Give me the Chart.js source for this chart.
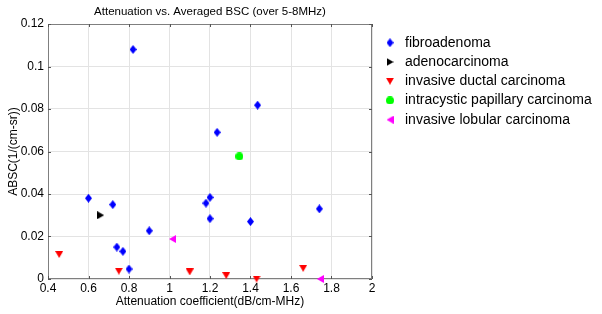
<!DOCTYPE html>
<html>
<head>
<meta charset="utf-8">
<script src="https://cdn.jsdelivr.net/npm/chart.js@4"></script>
<style>
  body { margin: 0; background: #fff; }
</style>
</head>
<body>
<canvas id="chart-absc" width="602" height="314"></canvas>
<script>
// data
const labels = ['fibroadenoma', 'adenocarcinoma', 'invasive ductal carcinoma',
    'intracystic papillary carcinoma', 'invasive lobular carcinoma'];

const fibroX = [0.6, 0.72, 0.74, 0.77, 0.8, 0.82, 0.9, 1.18, 1.2, 1.2, 1.235, 1.4, 1.435, 1.74];
const fibroY = [0.038, 0.035, 0.015, 0.013, 0.0047, 0.108, 0.0227, 0.0357, 0.0384, 0.0284, 0.069, 0.027, 0.0818, 0.033];

const adenoX = [0.66];
const adenoY = [0.030];

const idcX = [0.455, 0.75, 1.1, 1.28, 1.43, 1.66];
const idcY = [0.0115, 0.0037, 0.0033, 0.0016, 0.0, 0.005];

const icpX = [1.345];
const icpY = [0.0577];

const ilcX = [1.015, 1.745];
const ilcY = [0.0188, 0.0];

const xTicks = [0.4, 0.6, 0.8, 1, 1.2, 1.4, 1.6, 1.8, 2];
const yTicks = [0, 0.02, 0.04, 0.06, 0.08, 0.1, 0.12];

//----------------------------- markers -----------------------------
function makeMarker(shape, color) {
    var c = document.createElement('canvas');
    var w = 7, h = 7;
    if (shape === 'diamond') { w = 7; h = 9; }
    if (shape === 'down') { w = 8; h = 7; }
    if (shape === 'left' || shape === 'right') { w = 7; h = 8; }
    if (shape === 'circle') { w = 8; h = 8; }
    c.width = w; c.height = h;
    var g = c.getContext('2d');
    g.fillStyle = color;
    g.beginPath();
    if (shape === 'diamond') {
        g.moveTo(w / 2, 0); g.lineTo(w, h / 2); g.lineTo(w / 2, h); g.lineTo(0, h / 2);
    } else if (shape === 'down') {
        g.moveTo(0, 0); g.lineTo(w, 0); g.lineTo(w / 2, h);
    } else if (shape === 'right') {
        g.moveTo(0, 0); g.lineTo(w, h / 2); g.lineTo(0, h);
    } else if (shape === 'left') {
        g.moveTo(w, 0); g.lineTo(0, h / 2); g.lineTo(w, h);
    } else {
        g.arc(w / 2, h / 2, w / 2, 0, Math.PI * 2);
    }
    g.closePath();
    g.fill();
    return c;
}

var markers = [
    makeMarker('diamond', '#0000ff'),
    makeMarker('right', '#000000'),
    makeMarker('down', '#ff0000'),
    makeMarker('circle', '#00ff00'),
    makeMarker('left', '#ff00ff')
];

function toPoints(xs, ys) {
    return xs.map((x, i) => ({ x: x, y: ys[i] }));
}

var allX = [fibroX, adenoX, idcX, icpX, ilcX];
var allY = [fibroY, adenoY, idcY, icpY, ilcY];

var datasets = labels.map((lab, i) => ({
    label: lab,
    data: toPoints(allX[i], allY[i]),
    pointStyle: markers[i],
    clip: false
}));

// box round the plot, inward ticks and a matlab-like legend
var boxLegend = {
    id: 'boxLegend',
    beforeDatasetsDraw(chart) {
        const { ctx, chartArea: a, scales } = chart;
        ctx.save();
        ctx.strokeStyle = '#7f7f7f';
        ctx.lineWidth = 1;
        ctx.strokeRect(Math.round(a.left) + 0.5, Math.round(a.top) + 0.5,
            Math.round(a.right - a.left) - 1, Math.round(a.bottom - a.top) - 1);
        ctx.strokeStyle = '#555';
        ctx.beginPath();
        xTicks.forEach(v => {
            var px = Math.round(scales.x.getPixelForValue(v)) + 0.5;
            ctx.moveTo(px, a.bottom); ctx.lineTo(px, a.bottom - 3);
            ctx.moveTo(px, a.top); ctx.lineTo(px, a.top + 3);
        });
        yTicks.forEach(v => {
            var py = Math.round(scales.y.getPixelForValue(v)) + 0.5;
            ctx.moveTo(a.left, py); ctx.lineTo(a.left + 3, py);
            ctx.moveTo(a.right, py); ctx.lineTo(a.right - 3, py);
        });
        ctx.stroke();
        ctx.restore();
    },
    afterDatasetsDraw(chart) {
        const { ctx } = chart;
        ctx.save();
        ctx.font = '14px "Liberation Sans", Arial, sans-serif';
        ctx.fillStyle = '#000';
        ctx.textBaseline = 'middle';
        chart.data.datasets.forEach((ds, i) => {
            var y = 42.7 + i * 19.25;
            var m = ds.pointStyle;
            ctx.drawImage(m, 390 - m.width / 2, y - m.height / 2);
            ctx.fillText(ds.label, 405, y);
        });
        ctx.restore();
    }
};

var absc = document.getElementById('chart-absc').getContext('2d');
var chart_absc = new Chart(absc, {
    type: 'scatter',
    data: { datasets: datasets },
    plugins: [boxLegend],
    options: {
        responsive: false,
        animation: false,
        devicePixelRatio: 1,
        layout: { padding: { left: 0, right: 230, top: 0, bottom: 0 } },
        plugins: {
            legend: { display: false },
            tooltip: { enabled: false },
            title: {
                display: true,
                text: 'Attenuation vs. Averaged BSC (over 5-8MHz)',
                fullSize: false,
                color: '#000',
                font: { family: '"Liberation Sans", Arial, sans-serif', size: 11.5, weight: 'normal', lineHeight: 1.2 },
                padding: { top: 5, bottom: 5.2 }
            }
        },
        scales: {
            x: {
                type: 'linear',
                min: 0.4,
                max: 2,
                afterBuildTicks: s => { s.ticks = xTicks.map(v => ({ value: v })); },
                afterFit: s => { s.height = 35; },
                ticks: {
                    color: '#000',
                    padding: 2,
                    maxRotation: 0,
                    font: { family: '"Liberation Sans", Arial, sans-serif', size: 12 },
                    callback: v => String(v)
                },
                grid: { color: '#e3e3e3', drawTicks: false },
                border: { display: false },
                title: {
                    display: true,
                    text: 'Attenuation coefficient(dB/cm-MHz)',
                    color: '#000',
                    font: { family: '"Liberation Sans", Arial, sans-serif', size: 12 },
                    padding: { top: 0, bottom: 5 }
                }
            },
            y: {
                type: 'linear',
                min: 0,
                max: 0.12,
                afterBuildTicks: s => { s.ticks = yTicks.map(v => ({ value: v })); },
                afterFit: s => { s.width = 48; },
                ticks: {
                    color: '#000',
                    padding: 4,
                    font: { family: '"Liberation Sans", Arial, sans-serif', size: 12 },
                    callback: v => String(v)
                },
                grid: { color: '#e3e3e3', drawTicks: false },
                border: { display: false },
                title: {
                    display: true,
                    text: 'ABSC(1/(cm-sr))',
                    color: '#000',
                    font: { family: '"Liberation Sans", Arial, sans-serif', size: 12 },
                    padding: { top: 6, bottom: 0 }
                }
            }
        }
    }
});
</script>
</body>
</html>
